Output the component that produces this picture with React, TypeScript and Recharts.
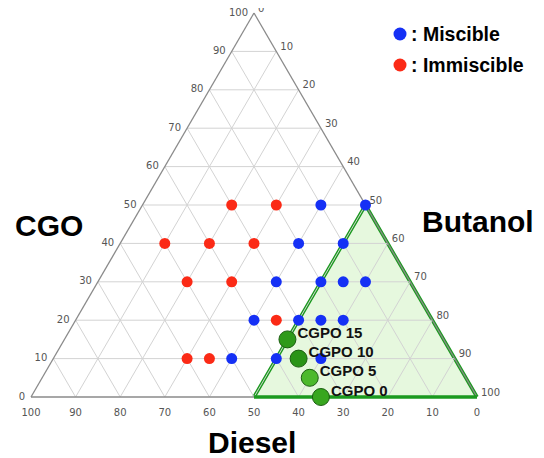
import { ComposedChart, XAxis, YAxis, ReferenceLine, Area, Scatter } from 'recharts';

const H = Math.sqrt(3) / 2;

// compositions in %: CGO and Butanol, Diesel is the remainder
const immiscibleCgo = [50, 50, 40, 40, 40, 30, 30, 20, 10, 10];
const immiscibleButanol = [20, 30, 10, 20, 30, 20, 30, 45, 30, 35];
const miscibleCgo = [50, 50, 40, 40, 30, 30, 30, 30, 20, 20, 20, 20, 10, 10, 10];
const miscibleButanol = [40, 50, 40, 50, 40, 50, 55, 60, 40, 50, 55, 60, 40, 50, 60];

const blendNames = ['CGPO 15', 'CGPO 10', 'CGPO 5', 'CGPO 0'];
const blendCgo = [15, 10, 5, 0];
const blendButanol = [50, 55, 60, 65];
const blendColors = ['#2e9a1a', '#2a9417', '#4cb92c', '#38a61f'];

const gridSteps = [10, 20, 30, 40, 50, 60, 70, 80, 90];
const tickValues = [0, 10, 20, 30, 40, 50, 60, 70, 80, 90, 100];

// butanol-rich region (Butanol >= 50)
const regionCgo = [0, 50, 0];
const regionButanol = [50, 50, 100];

const toXY = (cgo: number, butanol: number) => ({ x: butanol + cgo / 2, y: cgo * H });

const immiscible = immiscibleCgo.map((c, i) => toXY(c, immiscibleButanol[i]));
const miscible = miscibleCgo.map((c, i) => toXY(c, miscibleButanol[i]));
const blends = blendNames.map((name, i) => ({
  ...toXY(blendCgo[i], blendButanol[i]),
  name,
  color: blendColors[i],
}));
const region = regionCgo.map((c, i) => toXY(c, regionButanol[i]));

const leftTicks = tickValues.map((v) => ({ ...toXY(v, 0), label: v }));
const bottomTicks = tickValues.map((v) => ({ ...toXY(0, 100 - v), label: v }));
const rightTicks = tickValues.map((v) => ({ ...toXY(100 - v, v), label: v }));

type Seg = [{ x: number; y: number }, { x: number; y: number }];
const grid: Seg[] = [];
gridSteps.forEach((v) => {
  grid.push([toXY(v, 0), toXY(v, 100 - v)]); // constant CGO
  grid.push([toXY(0, v), toXY(100 - v, v)]); // constant Butanol
  grid.push([toXY(0, 100 - v), toXY(100 - v, 0)]); // constant Diesel
});
const frame: Seg[] = [
  [toXY(0, 0), toXY(0, 100)],
  [toXY(0, 0), toXY(100, 0)],
  [toXY(100, 0), toXY(0, 100)],
];

const GREEN = '#1b9a1f';
const tickStyle = { fontFamily: 'DejaVu Sans, sans-serif', fontSize: 10, fill: '#555' };
const boldFont = 'Liberation Sans, Arial, sans-serif';

const dot = (color: string, r: number) => (p: any) => (
  <circle cx={p.cx} cy={p.cy} r={r} fill={color} />
);

const tickText = (dx: number, dy: number, anchor: 'start' | 'middle' | 'end') => (p: any) => (
  <text x={p.cx + dx} y={p.cy + dy} textAnchor={anchor} dominantBaseline="central" {...tickStyle}>
    {p.payload.label}
  </text>
);

const blendShape = (p: any) => (
  <g>
    <circle cx={p.cx} cy={p.cy} r={8.5} fill={p.payload.color} stroke="#1c5e12" strokeWidth={1} />
    <text
      x={p.cx + 10}
      y={p.cy - 7}
      dominantBaseline="central"
      fontFamily={boldFont}
      fontWeight="bold"
      fontSize={15}
      fill="#111"
    >
      {p.payload.name}
    </text>
  </g>
);

export default function App() {
  return (
    <div style={{ position: 'relative', width: 536, height: 450, background: '#fff' }}>
      {/* apex labels sit just above the svg box */}
      <style>{'.recharts-surface { overflow: visible; }'}</style>
      <ComposedChart
        width={536}
        height={450}
        data={region}
        margin={{ top: 5, right: 67, bottom: 61, left: 23 }}
      >
        <XAxis type="number" dataKey="x" domain={[0, 100]} hide />
        <YAxis type="number" dataKey="y" domain={[0, 100 * H]} hide />
        {grid.map((s, i) => (
          <ReferenceLine key={`g${i}`} segment={s} stroke="#d3d3d3" strokeWidth={1} />
        ))}
        {frame.map((s, i) => (
          <ReferenceLine key={`f${i}`} segment={s} stroke="#8a8a8a" strokeWidth={1.3} />
        ))}
        <Scatter data={immiscible} shape={dot('#fb2a16', 5.5)} isAnimationActive={false} />
        <Scatter data={miscible} shape={dot('#1530f5', 5.5)} isAnimationActive={false} />
        <Area
          type="linear"
          dataKey="y"
          stroke={GREEN}
          strokeWidth={3.5}
          fill="#8fe06a"
          fillOpacity={0.22}
          dot={false}
          activeDot={false}
          isAnimationActive={false}
        />
        <ReferenceLine segment={[region[0], region[2]]} stroke={GREEN} strokeWidth={3.5} />
        <Scatter data={blends} shape={blendShape} isAnimationActive={false} />
        <Scatter data={leftTicks} shape={tickText(-6, -1, 'end')} isAnimationActive={false} />
        <Scatter data={bottomTicks} shape={tickText(0, 15, 'middle')} isAnimationActive={false} />
        <Scatter data={rightTicks} shape={tickText(4, -5, 'start')} isAnimationActive={false} />
      </ComposedChart>
      <svg
        width={536}
        height={450}
        style={{ position: 'absolute', left: 0, top: 0, pointerEvents: 'none' }}
      >
        <g fontFamily={boldFont} fontWeight="bold" fill="#000">
          <text x={7} y={228} fontSize={30}>CGO</text>
          <text x={414} y={224} fontSize={30}>Butanol</text>
          <text x={200} y={445} fontSize={30}>Diesel</text>
          <circle cx={392} cy={26} r={6.5} fill="#1530f5" />
          <text x={403} y={33} fontSize={19.5}>: Miscible</text>
          <circle cx={392} cy={57} r={6.5} fill="#fb2a16" />
          <text x={403} y={64} fontSize={19.5}>: Immiscible</text>
        </g>
      </svg>
    </div>
  );
}
